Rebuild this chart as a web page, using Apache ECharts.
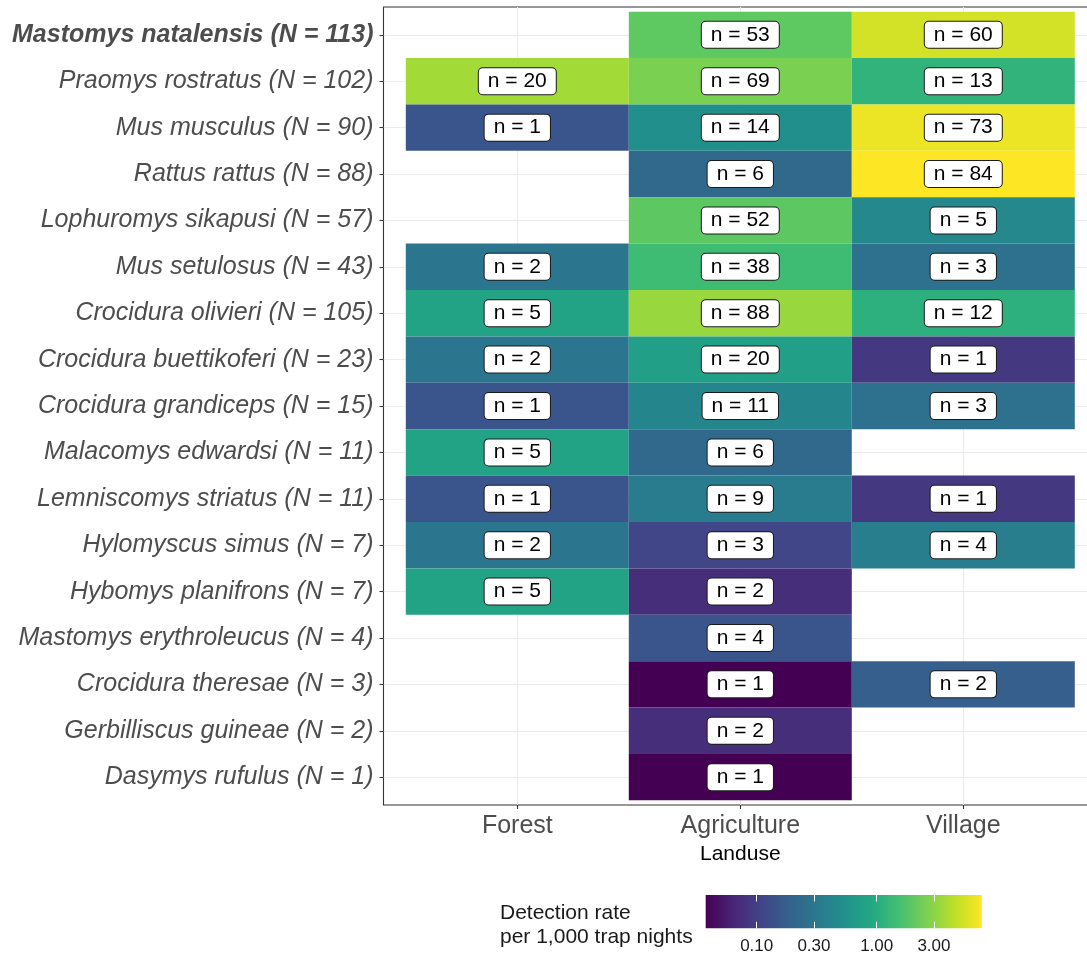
<!DOCTYPE html>
<html><head><meta charset="utf-8">
<script src="https://cdn.jsdelivr.net/npm/echarts@6/dist/echarts.min.js"></script>
<style>html,body{margin:0;padding:0;background:#fff;}#c{width:1087px;height:955px;}</style>
</head><body><div id="c"></div>
<script>
// ---- data ----
const species = [
  'Mastomys natalensis (N = 113)',
  'Praomys rostratus (N = 102)',
  'Mus musculus (N = 90)',
  'Rattus rattus (N = 88)',
  'Lophuromys sikapusi (N = 57)',
  'Mus setulosus (N = 43)',
  'Crocidura olivieri (N = 105)',
  'Crocidura buettikoferi (N = 23)',
  'Crocidura grandiceps (N = 15)',
  'Malacomys edwardsi (N = 11)',
  'Lemniscomys striatus (N = 11)',
  'Hylomyscus simus (N = 7)',
  'Hybomys planifrons (N = 7)',
  'Mastomys erythroleucus (N = 4)',
  'Crocidura theresae (N = 3)',
  'Gerbilliscus guineae (N = 2)',
  'Dasymys rufulus (N = 1)'
];
const landuse = ['Forest', 'Agriculture', 'Village'];

// counts shown in labels
const forestN  = [null, 20, 1, null, null, 2, 5, 2, 1, 5, 1, 2, 5, null, null, null, null];
const agriN    = [53, 69, 14, 6, 52, 38, 88, 20, 11, 6, 9, 3, 2, 4, 1, 2, 1];
const villageN = [60, 13, 73, 84, 5, 3, 12, 1, 3, null, 1, 4, null, null, 2, null, null];

const forestRate  = [null, 3.60, 0.15, null, null, 0.30, 0.80, 0.30, 0.15, 0.80, 0.15, 0.30, 0.80, null, null, null, null];
const agriRate    = [1.99, 2.59, 0.526, 0.226, 1.96, 1.43, 3.31, 0.752, 0.414, 0.226, 0.338, 0.113, 0.075, 0.150, 0.0376, 0.075, 0.0376];
const villageRate = [5.36, 1.16, 6.52, 7.50, 0.446, 0.268, 1.07, 0.089, 0.268, null, 0.089, 0.357, null, null, 0.179, null, null];

const legendTicks = [0.1, 0.3, 1, 3];
const viridis = ['#440154','#482576','#414487','#35608D','#2A788E','#21908C','#22A884','#43BF71','#7AD151','#BBDF27','#FDE725'];

// ---- build ----
const FONT = 'Liberation Sans, Arial, sans-serif';
const countCols = [forestN, agriN, villageN];
const rateCols = [forestRate, agriRate, villageRate];
const tiles = [];
const allRates = [];
for (let c = 0; c < landuse.length; c++) {
  for (let r = 0; r < species.length; r++) {
    if (countCols[c][r] != null) {
      tiles.push([c + 1, r + 1, Math.log10(rateCols[c][r]), countCols[c][r]]);
      allRates.push(rateCols[c][r]);
    }
  }
}
const minLog = Math.log10(Math.min.apply(null, allRates));
const maxLog = Math.log10(Math.max.apply(null, allRates));
const catVals = landuse.map((_, i) => i + 1);
const rowVals = species.map((_, i) => i + 1);
const legendLogs = legendTicks.map(v => Math.log10(v));

const chart = echarts.init(document.getElementById('c'), null, {renderer: 'canvas'});
chart.setOption({
  animation: false,
  backgroundColor: '#fff',
  textStyle: {fontFamily: FONT},
  title: {
    text: 'Detection rate\nper 1,000 trap nights',
    left: 500, top: 901, padding: 0,
    textStyle: {fontFamily: FONT, fontSize: 21, fontWeight: 'normal', color: '#1a1a1a', lineHeight: 24}
  },
  grid: [
    {left: 383.5, top: 7, width: 713.6, height: 798, show: true, borderColor: '#333333', borderWidth: 1.1,
     backgroundColor: '#fff', containLabel: false, outerBoundsMode: 'none'},
    {left: 705.7, top: 895, width: 276, height: 33.3, containLabel: false, outerBoundsMode: 'none'}
  ],
  visualMap: {
    type: 'continuous', show: false, seriesIndex: 0, dimension: 2,
    min: minLog, max: maxLog, inRange: {color: viridis}
  },
  xAxis: [
    {type: 'value', gridIndex: 0, min: 0.4, max: 3.6,
     name: 'Landuse', nameLocation: 'middle', nameGap: 37,
     nameTextStyle: {fontFamily: FONT, fontSize: 21, color: '#000'},
     axisLine: {show: false},
     axisTick: {show: true, customValues: catVals, length: 4, lineStyle: {color: '#333333', width: 1.1}},
     axisLabel: {customValues: catVals, margin: 9, fontFamily: FONT, fontSize: 25, color: '#4d4d4d',
                 formatter: v => landuse[Math.round(v) - 1] || ''},
     splitLine: {show: true, lineStyle: {color: '#ebebeb', width: 1.1}}},
    {type: 'value', gridIndex: 1, min: minLog, max: maxLog, position: 'bottom', z: 10,
     axisLine: {show: false},
     axisTick: {show: true, inside: true, customValues: legendLogs, length: 6.5, lineStyle: {color: '#ffffff', width: 1}},
     axisLabel: {customValues: legendLogs, margin: 10, fontFamily: FONT, fontSize: 17, color: '#1a1a1a',
                 formatter: v => Math.pow(10, v).toFixed(2)},
     splitLine: {show: false}},
    {type: 'value', gridIndex: 1, min: minLog, max: maxLog, position: 'top', z: 10,
     axisLine: {show: false},
     axisTick: {show: true, inside: true, customValues: legendLogs, length: 6.5, lineStyle: {color: '#ffffff', width: 1}},
     axisLabel: {show: false},
     splitLine: {show: false}}
  ],
  yAxis: [
    {type: 'value', gridIndex: 0, min: 0.4, max: 17.6, inverse: true,
     axisLine: {show: false},
     axisTick: {show: true, customValues: rowVals, length: 4, lineStyle: {color: '#333333', width: 1.1}},
     axisLabel: {customValues: rowVals, margin: 10, fontFamily: FONT, fontSize: 25, fontStyle: 'italic', color: '#4d4d4d',
                 formatter: v => {
                   const i = Math.round(v) - 1;
                   return i === 0 ? '{b|' + species[i] + '}' : (species[i] || '');
                 },
                 rich: {b: {fontFamily: FONT, fontSize: 25, fontStyle: 'italic', fontWeight: 'bold', color: '#4d4d4d'}}},
     splitLine: {show: true, lineStyle: {color: '#ebebeb', width: 1.1}}},
    {type: 'value', gridIndex: 1, min: 0, max: 1, show: false}
  ],
  series: [
    {
      type: 'custom', xAxisIndex: 0, yAxisIndex: 0,
      encode: {x: 0, y: 1},
      data: tiles,
      renderItem: function (params, api) {
        const x = api.value(0), y = api.value(1);
        const p0 = api.coord([x - 0.5, y - 0.5]);
        const p1 = api.coord([x + 0.5, y + 0.5]);
        return {
          type: 'rect',
          shape: {x: Math.min(p0[0], p1[0]), y: Math.min(p0[1], p1[1]),
                  width: Math.abs(p1[0] - p0[0]), height: Math.abs(p1[1] - p0[1])},
          style: {fill: api.visual('color')},
          textContent: {
            style: {text: 'n = ' + api.value(3), fontFamily: FONT, fontSize: 21, fill: '#000',
                    backgroundColor: '#fff', borderColor: '#1a1a1a', borderWidth: 1, borderRadius: 4,
                    padding: [2, 9, 2, 9], lineHeight: 22}
          },
          textConfig: {position: 'inside'}
        };
      }
    },
    {
      type: 'custom', xAxisIndex: 1, yAxisIndex: 1,
      data: [[minLog, maxLog]],
      silent: true,
      renderItem: function (params, api) {
        const p0 = api.coord([api.value(0), 1]);
        const p1 = api.coord([api.value(1), 0]);
        return {
          type: 'rect',
          shape: {x: p0[0], y: p0[1], width: p1[0] - p0[0], height: p1[1] - p0[1]},
          style: {fill: {type: 'linear', x: 0, y: 0, x2: 1, y2: 0,
                         colorStops: viridis.map((c, i) => ({offset: i / (viridis.length - 1), color: c}))}}
        };
      }
    }
  ]
});
</script></body></html>
